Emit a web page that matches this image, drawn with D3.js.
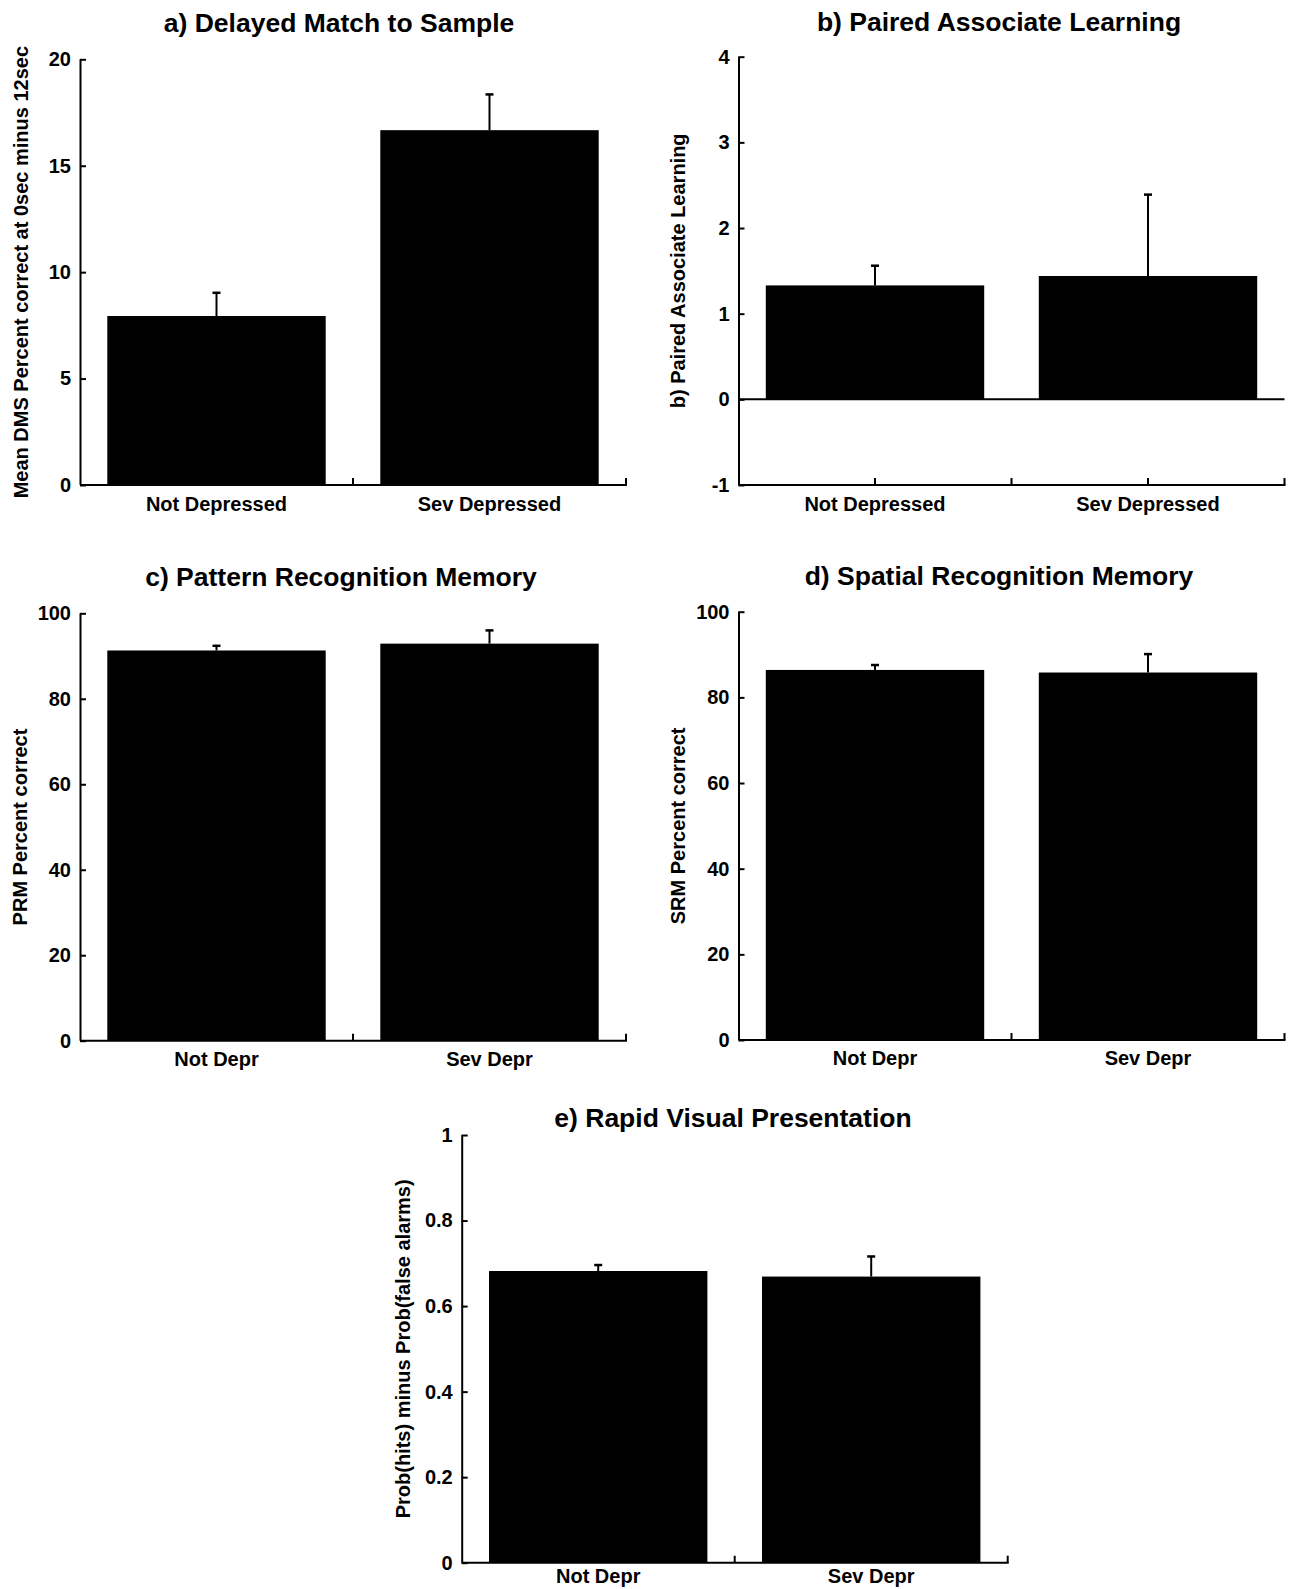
<!DOCTYPE html>
<html>
<head>
<meta charset="utf-8">
<script src="https://cdn.jsdelivr.net/npm/d3@7"></script>
<style>
  html, body { margin: 0; padding: 0; background: #fff; }
  svg { display: block; }
  text { font-family: "Liberation Sans", Arial, sans-serif; fill: #000; }
</style>
</head>
<body>
<svg id="chart" width="1290" height="1589"></svg>
<script>
// ---- Data ----
const catsLong = ["Not Depressed", "Sev Depressed"];
const catsShort = ["Not Depr", "Sev Depr"];

const titles = [
  "a) Delayed Match to Sample",
  "b) Paired Associate Learning",
  "c) Pattern Recognition Memory",
  "d) Spatial Recognition Memory",
  "e) Rapid Visual Presentation"
];
const yLabels = [
  "Mean DMS Percent correct at 0sec minus 12sec",
  "b) Paired Associate Learning",
  "PRM Percent correct",
  "SRM Percent correct",
  "Prob(hits) minus Prob(false alarms)"
];

const dmsMean = [7.94, 16.67];
const dmsErr  = [1.09, 1.68];
const palMean = [1.33, 1.44];
const palErr  = [0.23, 0.95];
const prmMean = [91.3, 92.9];
const prmErr  = [1.1, 3.1];
const srmMean = [86.4, 85.8];
const srmErr  = [1.15, 4.3];
const rvpMean = [0.682, 0.669];
const rvpErr  = [0.014, 0.047];

const dmsTicks = [0, 5, 10, 15, 20];
const palTicks = [-1, 0, 1, 2, 3, 4];
const palTickLabels = ["-1", "0", "1", "2", "3", "4"];
const pctTicks = [0, 20, 40, 60, 80, 100];
const rvpTicks = [0, 0.2, 0.4, 0.6, 0.8, 1];
const rvpTickLabels = ["0", "0.2", "0.4", "0.6", "0.8", "1"];

// ---- Layout (positions only) ----
const panels = [
  { cats: catsLong,  mean: dmsMean, err: dmsErr, ticks: dmsTicks, labels: null,
    x0: 80, top: 59.3, bottom: 485, titleX: 339, titleY: 32, ylabX: 28, xlabOff: 26 },
  { cats: catsLong,  mean: palMean, err: palErr, ticks: palTicks, labels: palTickLabels, zeroLine: true,
    x0: 738.5, top: 56.7, bottom: 485, titleX: 999, titleY: 31, ylabX: 685, xlabOff: 26 },
  { cats: catsShort, mean: prmMean, err: prmErr, ticks: pctTicks, labels: null,
    x0: 80, top: 613.3, bottom: 1040.7, titleX: 341, titleY: 586, ylabX: 27, xlabOff: 25 },
  { cats: catsShort, mean: srmMean, err: srmErr, ticks: pctTicks, labels: null,
    x0: 738.5, top: 611.7, bottom: 1040, titleX: 999, titleY: 585, ylabX: 685, xlabOff: 25 },
  { cats: catsShort, mean: rvpMean, err: rvpErr, ticks: rvpTicks, labels: rvpTickLabels,
    x0: 461.7, top: 1135, bottom: 1562.7, titleX: 733, titleY: 1127, ylabX: 410, xlabOff: 20.5 }
];
const plotW = 546;

const svg = d3.select("#chart");

panels.forEach((p, i) => {
  const g = svg.append("g");
  const yDomain = [p.ticks[0], p.ticks[p.ticks.length - 1]];
  const y = d3.scaleLinear().domain(yDomain).range([p.bottom, p.top]);
  const x = d3.scaleBand().domain(p.cats).range([p.x0, p.x0 + plotW])
              .paddingInner(0.2).paddingOuter(0.1);
  const base = Math.max(0, yDomain[0]);

  // Bars
  g.selectAll("rect.bar").data(p.cats).enter().append("rect")
    .attr("x", d => x(d))
    .attr("width", x.bandwidth())
    .attr("y", (d, j) => y(p.mean[j]))
    .attr("height", (d, j) => y(base) - y(p.mean[j]))
    .attr("fill", "#000");

  // Error bars (upper)
  const eb = g.selectAll("g.err").data(p.cats).enter().append("g");
  eb.append("line")
    .attr("x1", d => x(d) + x.bandwidth() / 2)
    .attr("x2", d => x(d) + x.bandwidth() / 2)
    .attr("y1", (d, j) => y(p.mean[j]))
    .attr("y2", (d, j) => y(p.mean[j] + p.err[j]))
    .attr("stroke", "#000").attr("stroke-width", 2);
  eb.append("line")
    .attr("x1", d => x(d) + x.bandwidth() / 2 - 4)
    .attr("x2", d => x(d) + x.bandwidth() / 2 + 4)
    .attr("y1", (d, j) => y(p.mean[j] + p.err[j]))
    .attr("y2", (d, j) => y(p.mean[j] + p.err[j]))
    .attr("stroke", "#000").attr("stroke-width", 2.5);

  // Zero line
  if (p.zeroLine) {
    g.append("line")
      .attr("x1", p.x0).attr("x2", p.x0 + plotW)
      .attr("y1", y(0)).attr("y2", y(0))
      .attr("stroke", "#000").attr("stroke-width", 2);
  }

  // Y axis
  const yAxis = d3.axisLeft(y).tickValues(p.ticks).tickSize(-6).tickPadding(9)
    .tickFormat((d, j) => p.labels ? p.labels[j] : String(d));
  const ya = g.append("g").attr("transform", `translate(${p.x0},0)`).call(yAxis);
  ya.select(".domain").attr("stroke", "#000").attr("stroke-width", 2)
    .attr("d", `M0.5,${p.top}V${p.bottom}`);
  ya.selectAll(".tick line").attr("stroke", "#000").attr("stroke-width", 2);
  ya.selectAll(".tick text").style("font-size", "20px").style("font-weight", "bold")
    .style("font-family", "'Liberation Sans', Arial, sans-serif")
    .attr("fill", "#000");

  // X axis line
  g.append("line")
    .attr("x1", p.x0).attr("x2", p.x0 + plotW + 1)
    .attr("y1", p.bottom).attr("y2", p.bottom)
    .attr("stroke", "#000").attr("stroke-width", 2);
  // X ticks: category centres and band boundaries (pointing inward)
  const tickXs = p.cats.map(c => x(c) + x.bandwidth() / 2)
    .concat(p.cats.map((c, j) => p.x0 + x.step() * (j + 1)));
  g.selectAll("line.xt").data(tickXs).enter().append("line")
    .attr("x1", d => d).attr("x2", d => d)
    .attr("y1", p.bottom).attr("y2", p.bottom - 7)
    .attr("stroke", "#000").attr("stroke-width", 2);
  // X labels
  g.selectAll("text.xl").data(p.cats).enter().append("text")
    .attr("x", d => x(d) + x.bandwidth() / 2)
    .attr("y", p.bottom + p.xlabOff)
    .attr("text-anchor", "middle")
    .style("font-size", "20px").style("font-weight", "bold")
    .text(d => d);

  // Title
  g.append("text")
    .attr("x", p.titleX).attr("y", p.titleY)
    .attr("text-anchor", "middle")
    .style("font-size", "26.5px").style("font-weight", "bold")
    .text(titles[i]);

  // Y label
  g.append("text")
    .attr("transform", `translate(${p.ylabX},${(p.top + p.bottom) / 2}) rotate(-90)`)
    .attr("text-anchor", "middle")
    .style("font-size", "20px").style("font-weight", "bold")
    .text(yLabels[i]);
});
</script>
</body>
</html>
